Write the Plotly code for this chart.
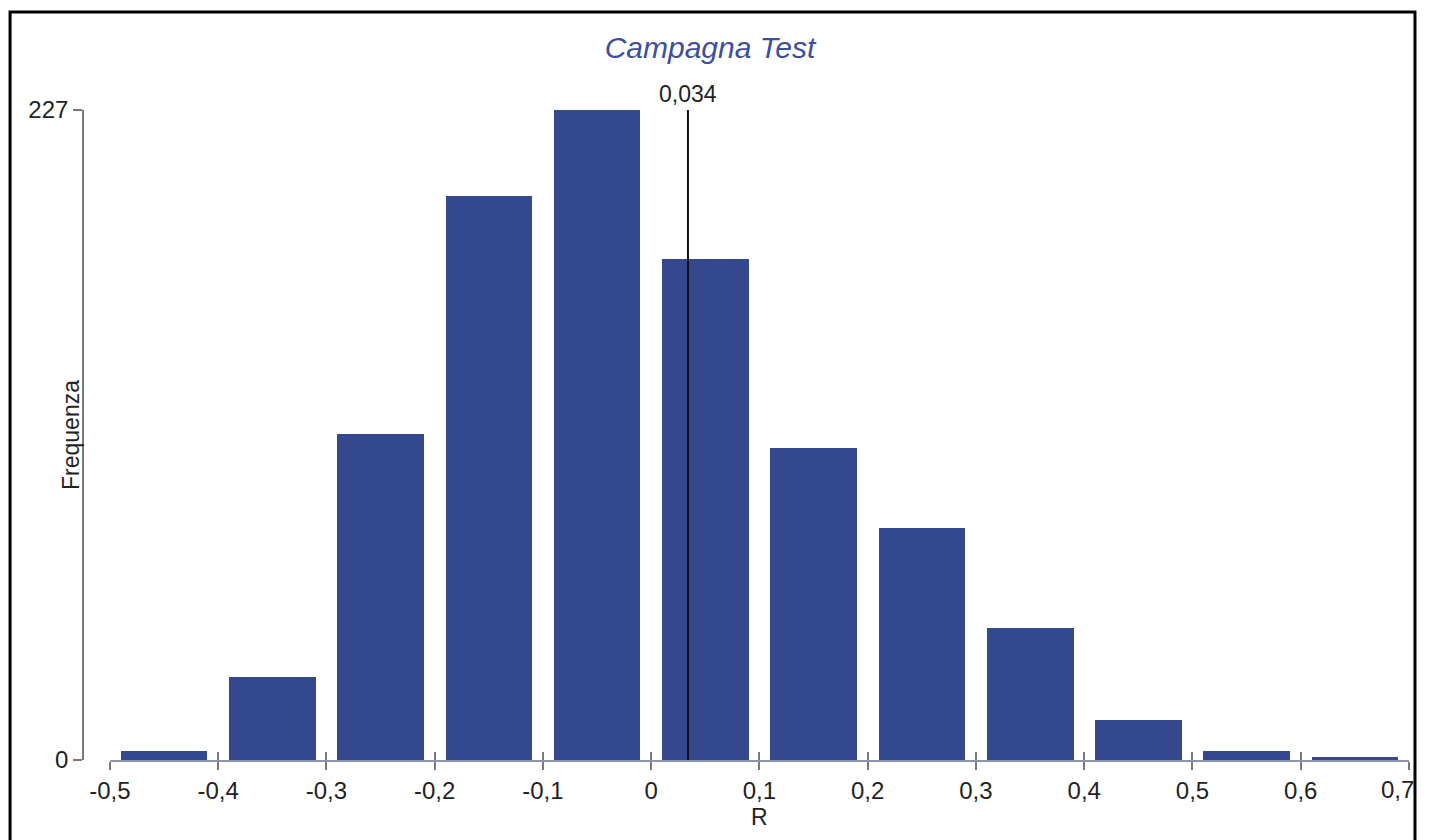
import plotly.graph_objects as go

# ---- data ----
bin_centers = [-0.45, -0.35, -0.25, -0.15, -0.05, 0.05, 0.15, 0.25, 0.35, 0.45, 0.55, 0.65]
frequencies = [3, 29, 114, 197, 227, 175, 109, 81, 46, 14, 3, 1]
r_value = 0.034
r_label = "0,034"
x_tick_vals = [-0.5, -0.4, -0.3, -0.2, -0.1, 0, 0.1, 0.2, 0.3, 0.4, 0.5, 0.6, 0.7]
x_tick_text = ["-0,5", "-0,4", "-0,3", "-0,2", "-0,1", "0", "0,1", "0,2", "0,3", "0,4", "0,5", "0,6", "0,7"]
y_tick_vals = [0, 227]
y_tick_text = ["0", "227"]
title_text = "Campagna Test"
x_title = "R"
y_title = "Frequenza"

BAR_COLOR = "#34488f"
AXIS_COLOR = "#7a7a7a"
FONT = "Liberation Sans, Arial, sans-serif"
TXT = "#222222"

# the page is photographed with an effective plot width of 1420 px
W, H = 1420, 840
ML, MR, MT, MB = 40, 6, 110, 80
pw = W - ML - MR
ph = H - MT - MB
x_dom = [(110 - ML) / pw, (1412 - ML) / pw]
y_pos = (83 - ML) / pw

fig = go.Figure()
fig.add_trace(go.Bar(x=bin_centers, y=frequencies, width=0.08,
                     marker=dict(color=BAR_COLOR, line=dict(width=0)),
                     hoverinfo="x+y", showlegend=False))
fig.add_trace(go.Scatter(x=[r_value, r_value], y=[0, max(frequencies)], mode="lines",
                         line=dict(color="#111111", width=2), showlegend=False,
                         hoverinfo="skip"))
fig.add_trace(go.Scatter(x=[None], y=[None], xaxis="x2", yaxis="y2", showlegend=False,
                         hoverinfo="skip"))

common_x = dict(range=[x_tick_vals[0], x_tick_vals[-1]], domain=x_dom,
                tickvals=x_tick_vals, showgrid=False, zeroline=False,
                ticklen=8, tickwidth=1.5, tickcolor=AXIS_COLOR)
common_y = dict(range=[0, max(frequencies)], tickvals=y_tick_vals, showgrid=False,
                zeroline=False, ticklen=9, tickwidth=1.5, tickcolor=AXIS_COLOR,
                anchor="free", position=y_pos)

# last tick label is drawn as an annotation so it stays inside the page edge
axis_tick_text = x_tick_text[:-1] + [" "]

fig.update_layout(
    width=W, height=H, autosize=False, margin=dict(l=ML, r=MR, t=MT, b=MB),
    paper_bgcolor="white", plot_bgcolor="white",
    font=dict(family=FONT, size=22, color=TXT),
    bargap=0,
    xaxis=dict(**common_x, ticks="outside", ticktext=axis_tick_text, showline=True,
               linecolor="#8a94b0", linewidth=1.5, anchor="y",
               tickfont=dict(size=24, color=TXT),
               title=dict(text=x_title, font=dict(size=23), standoff=2)),
    xaxis2=dict(**common_x, ticks="inside", overlaying="x", showticklabels=False,
                showline=False, anchor="y"),
    yaxis=dict(**common_y, ticks="outside", ticktext=y_tick_text, showline=True,
               linecolor=AXIS_COLOR, linewidth=1.5,
               tickfont=dict(size=24, color=TXT)),
    yaxis2=dict(**common_y, ticks="inside", overlaying="y", showticklabels=False,
                showline=False),
    title=dict(text=title_text, x=710 / W, xanchor="center", xref="container",
               y=1 - 47 / H, yanchor="middle", yref="container",
               font=dict(family=FONT, size=30, color="#3b4f9a", style="italic")),
)

fig.add_annotation(x=x_tick_vals[-1], y=0, xanchor="right", yanchor="top",
                   xshift=7, yshift=-14, text=x_tick_text[-1], showarrow=False,
                   font=dict(size=24, color=TXT))
fig.add_annotation(x=r_value, y=max(frequencies), text=r_label, showarrow=False,
                   yanchor="bottom", yshift=1, font=dict(size=23, color=TXT))
fig.add_annotation(x=(56 - ML) / pw, xref="paper", y=0.5, yref="paper",
                   text=y_title, textangle=-90, showarrow=False,
                   font=dict(size=23, color=TXT))

# frame border
fig.add_shape(type="rect", xref="paper", yref="paper",
              x0=(10 - ML) / pw, x1=(1418 - ML) / pw,
              y0=-(MB + 20) / ph, y1=1 + (MT - 12) / ph,
              line=dict(color="black", width=3), layer="below")

post = ("document.body.style.margin='0';document.body.style.overflow='hidden';")
fig.write_html("out.html", config={"displayModeBar": False}, post_script=post)
